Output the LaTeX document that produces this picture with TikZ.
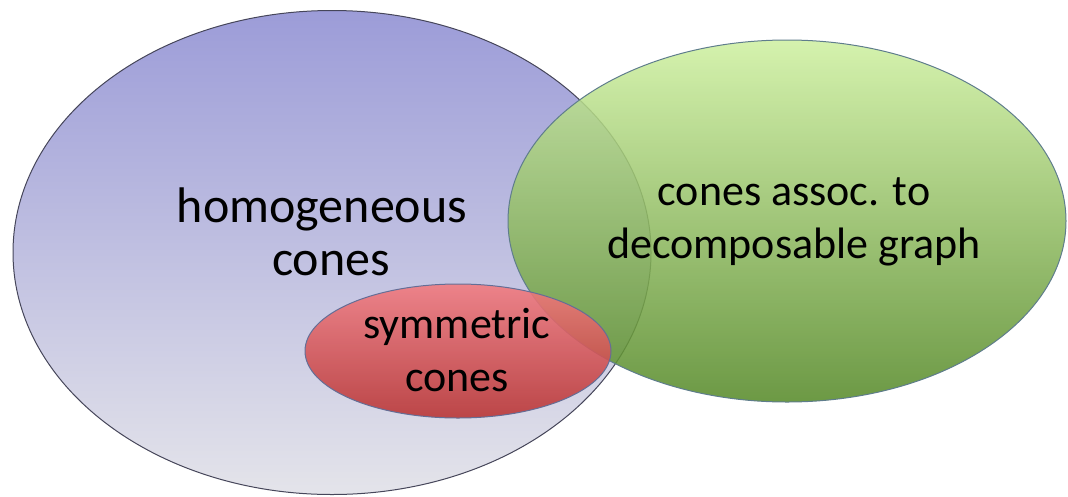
\documentclass[tikz,border=0pt]{standalone}
\usepackage{fontspec}
\setmainfont{Carlito}
\definecolor{blueTop}{RGB}{156,156,216}
\definecolor{blueBot}{RGB}{228,228,234}
\definecolor{blueLine}{RGB}{70,70,90}
\definecolor{greenTop}{RGB}{206,240,160}
\definecolor{greenMid}{RGB}{158,206,108}
\definecolor{greenBot}{RGB}{84,136,38}
\definecolor{greenLine}{RGB}{95,125,140}
\definecolor{redTop}{RGB}{242,122,126}
\definecolor{redBot}{RGB}{184,50,50}
\definecolor{redLine}{RGB}{100,110,150}
\tikzset{
  setblob/.style={line width=1pt},
  bigtxt/.style={font=\fontsize{50}{53}\selectfont, align=center, anchor=base, inner sep=0pt},
  midtxt/.style={font=\fontsize{44}{53}\selectfont, align=center, anchor=base, inner sep=0pt},
}
\begin{document}
\begin{tikzpicture}[x=1pt,y=-1pt]
\useasboundingbox (0,0) rectangle (1068,496);
% blue ellipse
\path[setblob, draw=blueLine, top color=blueTop, bottom color=blueBot]
  (332,252.5) ellipse [x radius=319, y radius=242];
% green ellipse
\path[setblob, draw=greenLine, top color=greenTop, middle color=greenMid, bottom color=greenBot, fill opacity=0.86]
  (787,221) ellipse [x radius=279, y radius=181];
% red ellipse
\path[setblob, draw=redLine, top color=redTop, bottom color=redBot, fill opacity=0.88]
  (458,351) ellipse [x radius=153, y radius=67];
% texts (base anchor = baseline of last line)
\node[bigtxt] (homog) at (322,275) {homogeneous\\\hspace*{18pt}cones};
\node[midtxt] (decomp) at (794,258) {cones assoc. to\\decomposable graph};
\node[midtxt] (symm) at (457,391) {symmetric\\cones};
\end{tikzpicture}
\end{document}
